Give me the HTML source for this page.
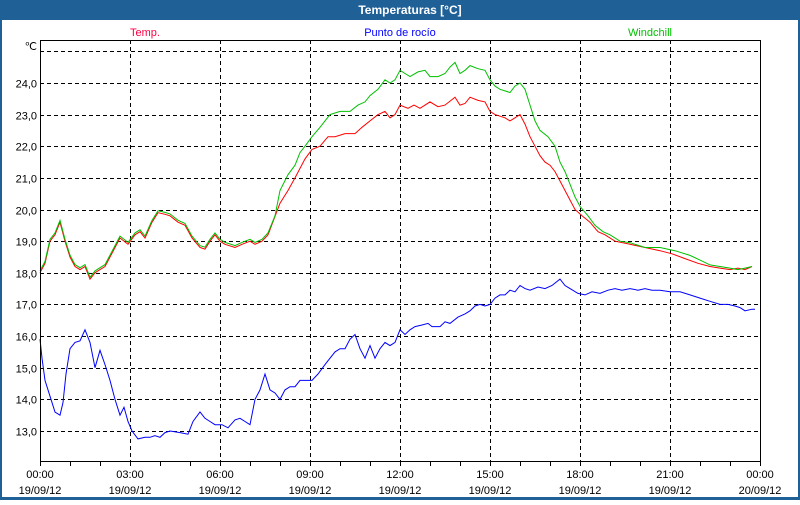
<!DOCTYPE html><html><head><meta charset="utf-8"><style>
body{margin:0;width:800px;height:500px;overflow:hidden;background:#fff;font-family:"Liberation Sans",sans-serif}
</style></head><body>
<svg id="s" width="800" height="500" xmlns="http://www.w3.org/2000/svg" font-family="Liberation Sans, sans-serif" font-size="11">
<rect x="0" y="0" width="800" height="500" fill="#1f6096"/>
<rect x="2" y="20" width="796" height="477" fill="#fff"/>
<text x="410" y="14" fill="#fff" font-weight="bold" font-size="12" text-anchor="middle">Temperaturas [°C]</text>
<text x="145" y="36" fill="#ff0040" text-anchor="middle">Temp.</text>
<text x="400" y="36" fill="#0000ff" text-anchor="middle">Punto de rocío</text>
<text x="650" y="36" fill="#00c000" text-anchor="middle">Windchill</text>
<g id="g"></g>
<rect x="40.5" y="40.5" width="720" height="421" fill="none" stroke="#000"/>
<text x="37" y="50" text-anchor="end">℃</text>
</svg>
<script>
var g=document.getElementById('g'),NS='http://www.w3.org/2000/svg';
function el(t,a,txt){var e=document.createElementNS(NS,t);for(var k in a)e.setAttribute(k,a[k]);if(txt)e.textContent=txt;g.appendChild(e);return e}
function Y(v){return 431-(v-13)*31.64}
for(var v=13;v<=25;v++){var y=Math.round(Y(v))+.5;el('line',{x1:40,x2:760,y1:y,y2:y,stroke:'#000','stroke-dasharray':'4,3'});
if(v<25)el('text',{x:37,y:y+4,'text-anchor':'end'},v+',0');}
for(var i=0;i<=8;i++){var x=40+i*90;if(i>0&&i<8)el('line',{x1:x+.5,x2:x+.5,y1:40,y2:461,stroke:'#000','stroke-dasharray':'4,3'});
var h=(i*3)%24;el('text',{x:x,y:478,'text-anchor':'middle'},(h<10?'0':'')+h+':00');el('text',{x:x,y:494,'text-anchor':'middle'},i==8?'20/09/12':'19/09/12');}
for(var x=40;x<=760;x+=30)el('line',{x1:x+.5,x2:x+.5,y1:461,y2:466,stroke:'#000'});
function P(d,c,off){off=off||0;var s=[];for(var i=0;i<d.length;i+=2)s.push(d[i]+','+(Y(d[i+1])-off).toFixed(1));el('polyline',{points:s.join(' '),fill:'none',stroke:c,'stroke-width':1})}
var base=[40,18,45,18.3,50,19,55,19.2,60,19.6,65,19,70,18.5,75,18.2,80,18.1,85,18.2,90,17.8,95,18,100,18.1,105,18.2,110,18.5,115,18.8,120,19.1,128,18.9,135,19.2,140,19.3,145,19.1,152,19.6,158,19.9,165,19.85,170,19.8,178,19.6,185,19.5,192,19.1,200,18.8,205,18.75,210,19,215,19.2,220,19,225,18.9,235,18.8,242,18.9,250,19.0,255,18.9,262,19.0,268,19.2];
var baseW=[];for(var i=0;i<base.length;i+=2){baseW.push(base[i],base[i+1]+0.06);}
var temp=base.concat([280,20.2,288,20.6,295,21,305,21.6,312,21.9,320,22,328,22.3,335,22.3,345,22.4,355,22.4,362,22.6,370,22.8,378,23,385,23.1,390,22.9,395,23.0,400,23.3,408,23.2,414,23.3,420,23.2,430,23.4,438,23.25,445,23.3,455,23.55,460,23.3,465,23.35,470,23.55,478,23.45,485,23.4,490,23.1,495,23.0,505,22.9,510,22.8,515,22.9,520,23.0,525,22.7,530,22.3,535,22,540,21.7,545,21.5,550,21.4,555,21.2,560,20.9,565,20.6,570,20.3,575,20,582,19.8,590,19.6,598,19.3,605,19.2,615,19.0,630,18.9,645,18.8,660,18.7,672,18.6,685,18.45,698,18.3,710,18.2,720,18.15,730,18.1,738,18.15,745,18.1,752,18.2]);
var wc=baseW.concat([275,19.8,280,20.6,288,21.1,295,21.4,300,21.8,305,22.0,312,22.3,320,22.6,325,22.8,330,23.0,340,23.1,350,23.1,358,23.3,365,23.4,370,23.6,378,23.8,385,24.1,390,24.0,395,24.1,400,24.4,405,24.3,410,24.2,418,24.35,425,24.4,430,24.2,438,24.2,445,24.3,450,24.5,455,24.65,460,24.3,465,24.4,470,24.55,478,24.45,485,24.4,490,24.1,495,23.9,500,23.8,505,23.75,510,23.7,515,23.9,520,24.0,525,23.8,530,23.3,535,22.8,540,22.5,548,22.3,555,22.0,560,21.5,565,21.2,570,20.8,575,20.4,580,20.1,588,19.8,595,19.5,603,19.3,610,19.2,620,19.0,630,18.95,645,18.8,660,18.8,675,18.7,690,18.55,700,18.4,710,18.25,720,18.2,730,18.15,738,18.1,745,18.15,752,18.2]);
var dew=[40,15.9,42,15.3,45,14.6,50,14.1,55,13.6,60,13.5,63,13.9,66,14.8,70,15.6,75,15.8,80,15.85,85,16.2,90,15.8,95,15.0,100,15.55,105,15.1,110,14.6,115,14.0,120,13.5,124,13.75,128,13.3,132,13.0,138,12.75,145,12.8,150,12.8,155,12.85,160,12.8,165,12.95,170,13.0,180,12.95,188,12.9,193,13.3,200,13.6,205,13.4,210,13.3,215,13.2,222,13.2,228,13.1,235,13.35,240,13.4,245,13.3,250,13.2,255,14.0,260,14.3,265,14.8,270,14.3,275,14.2,280,14.0,285,14.3,290,14.4,295,14.4,300,14.6,305,14.6,312,14.6,318,14.8,325,15.1,330,15.3,335,15.5,340,15.6,345,15.6,350,15.9,355,16.05,360,15.6,365,15.3,370,15.7,375,15.3,380,15.6,385,15.8,390,15.7,395,15.8,400,16.2,405,16.05,410,16.2,415,16.3,422,16.35,428,16.4,432,16.3,440,16.3,445,16.45,450,16.4,458,16.6,465,16.7,470,16.8,475,16.95,480,17.0,485,16.95,490,17.0,495,17.2,500,17.3,505,17.3,510,17.45,515,17.4,520,17.6,525,17.5,530,17.45,538,17.55,545,17.5,552,17.6,560,17.8,565,17.6,570,17.5,578,17.35,585,17.3,592,17.4,600,17.35,608,17.45,615,17.5,622,17.45,630,17.5,638,17.45,645,17.5,652,17.45,660,17.45,670,17.4,680,17.4,690,17.3,700,17.2,710,17.1,720,17.0,728,17.0,735,16.95,740,16.9,745,16.8,752,16.85,755,16.85];
P(temp,'#ff0000');P(wc,'#00c000');P(dew,'#0000ff');
</script>
</body></html>
